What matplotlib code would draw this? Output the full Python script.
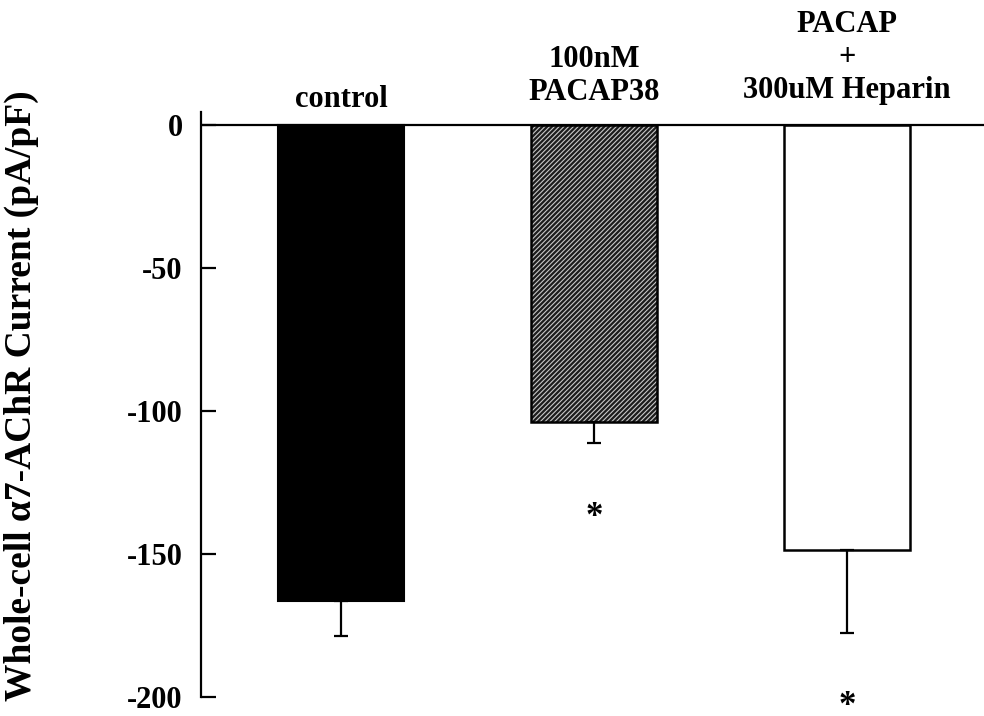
import matplotlib
matplotlib.use("Agg")
import matplotlib.pyplot as plt
import numpy as np

# ---- data ----
categories = ["control", "100nM\nPACAP38", "PACAP\n+\n300uM Heparin"]
means = [-166.6, -103.9, -148.7]
sems = [12.2, 7.4, 29.0]
significant = [False, True, True]
yticks = [0, -50, -100, -150, -200]
ylabel = "Whole-cell α7-AChR Current (pA/pF)"

plt.rcParams['font.family'] = ['Liberation Serif', 'DejaVu Serif']
plt.rcParams['font.weight'] = 'bold'
plt.rcParams['hatch.linewidth'] = 0.8

fig = plt.figure(figsize=(9.84, 7.16), dpi=100)
ax = fig.add_axes([0.204, 0.027, 0.796, 0.817])

x = np.arange(len(categories))
w = 0.5
# control: solid black
ax.bar(x[0], means[0], width=w, color='black', edgecolor='black', linewidth=1.5, zorder=2)
# PACAP38: dark hatched
ax.bar(x[1], means[1], width=w, color='#1c1c1c', edgecolor='#c8c8c8', hatch='///////', linewidth=0, zorder=2)
ax.bar(x[1], means[1], width=w, facecolor='none', edgecolor='black', linewidth=1.8, zorder=3)
# Heparin: white
ax.bar(x[2], means[2], width=w, facecolor='white', edgecolor='black', linewidth=1.8, zorder=2)

lower = np.array(sems)
upper = np.zeros(len(sems))
ax.errorbar(x, means, yerr=[lower, upper], fmt='none', ecolor='black', elinewidth=1.6,
            capsize=5, capthick=1.6, zorder=4)

for xi, m, s, sig in zip(x, means, sems, significant):
    if sig:
        ax.annotate('*', xy=(xi, m - s - 23.5), xytext=(0, -11), textcoords='offset points',
                    ha='center', va='baseline', fontsize=25, fontweight='bold',
                    annotation_clip=False)

ax.axhline(0, color='black', linewidth=1.6, zorder=5)

ax.set_xlim(-0.5545, 2.541)
ax.set_ylim(-200, 4.7)
ax.set_yticks(yticks)
ax.set_yticklabels([str(t) for t in yticks], fontsize=22, fontweight='bold')
ax.tick_params(axis='y', direction='in', length=11, width=1.6, pad=13)
ax.set_xticks([])
for s in ['top', 'right', 'bottom']:
    ax.spines[s].set_visible(False)
ax.spines['left'].set_linewidth(1.6)

label_y = [1.008, 1.020, 1.0235]
for xi, lab, ly in zip(x, categories, label_y):
    ax.text(xi, ly, lab, transform=ax.get_xaxis_transform(), ha='center', va='baseline',
            multialignment='center', fontsize=22, fontweight='bold', linespacing=1.17)

ax.set_ylabel(ylabel, fontsize=27, fontweight='bold')
ax.yaxis.set_label_coords(-0.207, 0.514)

fig.savefig("out.png", dpi=100)
